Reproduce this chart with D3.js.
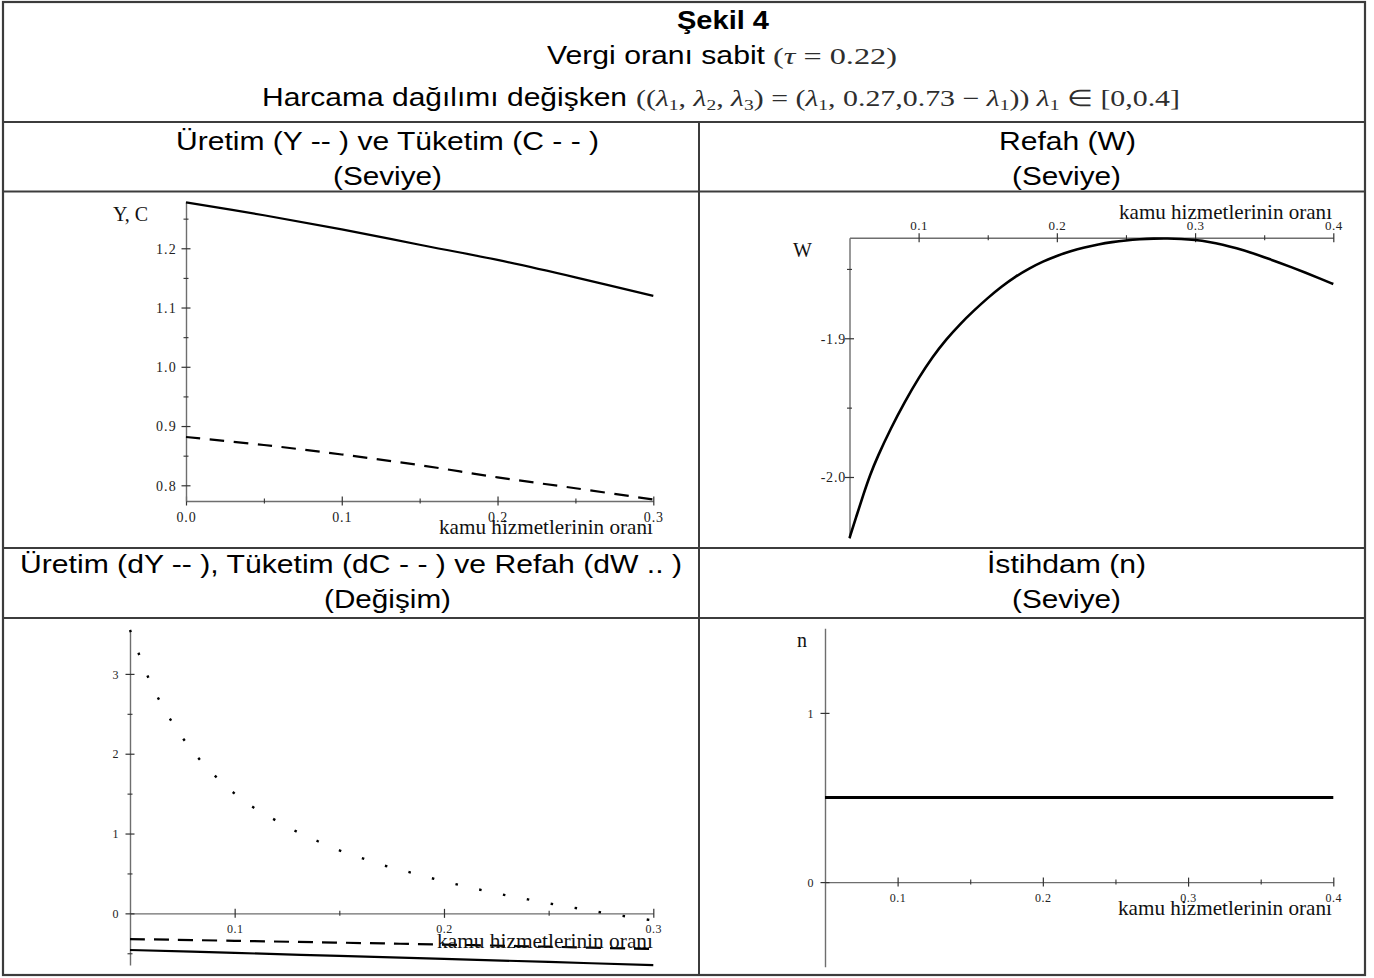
<!DOCTYPE html>
<html><head><meta charset="utf-8">
<script src="https://cdn.jsdelivr.net/npm/d3@7"></script>
<style>
html,body{margin:0;padding:0;background:#fff;}
svg{display:block;}
</style></head><body>
<svg id="chart" width="1374" height="978"></svg>
<script>
// ---------------- DATA ----------------
// Top-left: output Y and consumption C (levels) vs lambda1
const tlLambda = [0, 0.05, 0.10, 0.15, 0.20, 0.25, 0.30];
const tlOutputY = [1.2776, 1.2558, 1.2319, 1.2060, 1.1803, 1.1510, 1.1196];
const tlConsumptionC = [0.8815, 0.8680, 0.8520, 0.8340, 0.8135, 0.7950, 0.7760];

// Top-right: welfare W (level)
const trLambda = [0.05, 0.055, 0.06, 0.065, 0.07, 0.08, 0.09, 0.10, 0.11, 0.12, 0.13, 0.14, 0.15, 0.16, 0.17, 0.18, 0.19, 0.20, 0.21, 0.22, 0.23, 0.24, 0.25, 0.26, 0.27, 0.28, 0.29, 0.30, 0.31, 0.32, 0.33, 0.34, 0.35, 0.36, 0.37, 0.38, 0.39, 0.40];
const trWelfareW = [-2.0440, -2.0283, -2.0127, -1.9982, -1.9859, -1.9647, -1.9457, -1.9286, -1.9135, -1.9007, -1.8897, -1.8800, -1.8709, -1.8627, -1.8555, -1.8496, -1.8446, -1.8405, -1.8372, -1.8345, -1.8323, -1.8306, -1.8294, -1.8286, -1.8281, -1.8280, -1.8283, -1.8291, -1.8305, -1.8325, -1.8351, -1.8381, -1.8415, -1.8451, -1.8489, -1.8528, -1.8568, -1.8609];

// Bottom-left: changes dY, dC, dW
const blLambdaW = [0.05, 0.06, 0.07, 0.08, 0.09, 0.10, 0.11, 0.12, 0.13, 0.14, 0.15, 0.16, 0.17, 0.18, 0.19, 0.20, 0.21, 0.22, 0.23, 0.24, 0.25, 0.26, 0.27, 0.28, 0.29, 0.30];
const blWelfareDW = [3.55, 2.88, 2.40, 2.03, 1.74, 1.50, 1.31, 1.16, 1.02, 0.90, 0.79, 0.70, 0.61, 0.54, 0.47, 0.40, 0.34, 0.28, 0.225, 0.175, 0.125, 0.08, 0.035, -0.01, -0.05, -0.09];
const blLambdaYC = [0.05, 0.10, 0.15, 0.20, 0.25, 0.30];
const blOutputDY = [-0.459, -0.495, -0.533, -0.570, -0.609, -0.648];
const blConsumptionDC = [-0.322, -0.344, -0.367, -0.391, -0.418, -0.447];

// Bottom-right: employment n
const brLambda = [0.05, 0.40];
const brEmploymentN = [0.5, 0.5];

// Tick values
const tlXMajor = [0, 0.1, 0.2, 0.3], tlXMinor = [0.05, 0.15, 0.25];
const tlYMajor = [0.8, 0.9, 1.0, 1.1, 1.2], tlYMinor = [0.85, 0.95, 1.05, 1.15, 1.25];
const trXMajor = [0.1, 0.2, 0.3, 0.4], trXMinor = [0.15, 0.25, 0.35];
const trYMajor = [-2.0, -1.9], trYMinor = [-1.95, -1.85];
const blXMajor = [0.1, 0.2, 0.3], blXMinor = [0.15, 0.25];
const blYMajor = [0, 1, 2, 3], blYMinor = [-0.5, 0.5, 1.5, 2.5];
const brXMajor = [0.1, 0.2, 0.3, 0.4], brXMinor = [0.15, 0.25, 0.35];
const brYMajor = [0, 1];

const axisLabelText = "kamu hizmetlerinin oranı";

// ---------------- DRAWING ----------------
const svg = d3.select("#chart");
const SANS = "'Liberation Sans', Arial, sans-serif";
const SERIF = "'Liberation Serif', 'Times New Roman', serif";
const axisColor = "#6e6e6e", tickColor = "#333";

function txt(x, y, s, o = {}) {
  const t = svg.append("text").attr("x", x).attr("y", y)
    .attr("font-family", o.family || SANS).attr("font-size", o.size || 25)
    .attr("font-weight", o.weight || "normal").attr("fill", o.fill || "#000")
    .attr("text-anchor", o.anchor || "start").text(s);
  if (o.len) t.attr("textLength", o.len).attr("lengthAdjust", "spacingAndGlyphs");
  return t;
}

// Table grid
const grid = svg.append("g").attr("stroke", "#3c3c3c").attr("fill", "none");
grid.append("rect").attr("x", 3).attr("y", 2).attr("width", 1362).attr("height", 973).attr("stroke-width", 2.2);
[122, 191.5, 548, 618].forEach(yy => grid.append("line").attr("x1", 3).attr("x2", 1365).attr("y1", yy).attr("y2", yy).attr("stroke-width", 2));
grid.append("line").attr("x1", 699).attr("x2", 699).attr("y1", 122).attr("y2", 975).attr("stroke-width", 2);

// Title block
txt(677, 29, "Şekil 4", {weight: "bold", len: 92});
txt(547, 64, "Vergi oranı sabit", {len: 218});

// math text: segments [text, italic?, subscript?]
function mathText(x, y, len, segs) {
  const t = svg.append("text").attr("x", x).attr("y", y).attr("font-family", SERIF)
    .attr("font-size", 23).attr("fill", "#2e2e2e").attr("textLength", len).attr("lengthAdjust", "spacingAndGlyphs");
  let inSub = false;
  segs.forEach(([s, it, sub]) => {
    const ts = t.append("tspan").text(s);
    if (it) ts.attr("font-style", "italic");
    if (sub) { ts.attr("font-size", 15); if (!inSub) ts.attr("dy", 4); inSub = true; }
    else if (inSub) { ts.attr("dy", -4); inSub = false; }
  });
  return t;
}
mathText(773, 64, 124, [["(", 0, 0], ["τ", 1, 0], [" = 0.22)", 0, 0]]);
txt(262, 106, "Harcama dağılımı değişken", {len: 365});
mathText(636, 106, 544, [
  ["((", 0, 0], ["λ", 1, 0], ["1", 0, 1], [", ", 0, 0], ["λ", 1, 0], ["2", 0, 1], [", ", 0, 0],
  ["λ", 1, 0], ["3", 0, 1], [") = (", 0, 0], ["λ", 1, 0], ["1", 0, 1], [", 0.27,0.73 − ", 0, 0],
  ["λ", 1, 0], ["1", 0, 1], [")) ", 0, 0], ["λ", 1, 0], ["1", 0, 1], [" ∈ [0,0.4]", 0, 0]
]);

// Headers
txt(176, 150, "Üretim (Y -- ) ve Tüketim (C - - )", {len: 423});
txt(333, 184.5, "(Seviye)", {len: 109});
txt(999, 150, "Refah (W)", {len: 137});
txt(1012, 184.5, "(Seviye)", {len: 109});
txt(20, 573, "Üretim (dY -- ), Tüketim (dC - - ) ve Refah (dW .. )", {len: 662});
txt(324, 607.5, "(Değişim)", {len: 127});
txt(987, 573, "İstihdam (n)", {len: 159});
txt(1012, 607.5, "(Seviye)", {len: 109});

// Axis helpers
function styleAxisG(ax, size, ls) {
  ax.attr("font-family", SERIF).attr("font-size", size).attr("fill", null);
  ax.select(".domain").attr("stroke", axisColor).attr("stroke-width", 1.4);
  ax.selectAll(".tick text").attr("fill", "#222").attr("letter-spacing", ls);
}
function xAxis(g, x, yPos, majors, minors, fmt, labelY, size, ls, top) {
  const gen = top ? d3.axisTop : d3.axisBottom;
  const ax = g.append("g").attr("transform", `translate(0,${yPos})`)
    .call(gen(x).tickValues(majors).tickFormat(fmt).tickSizeInner(4.5).tickSizeOuter(0));
  styleAxisG(ax, size, ls);
  ax.selectAll(".tick line").attr("y1", -4.5).attr("y2", 4.5).attr("stroke", tickColor).attr("stroke-width", 1.2);
  ax.selectAll(".tick text").attr("y", labelY).attr("dy", null);
  const mn = g.append("g").attr("transform", `translate(0,${yPos})`)
    .call(gen(x).tickValues(minors).tickFormat("").tickSizeOuter(0));
  mn.select(".domain").remove();
  mn.selectAll(".tick line").attr("y1", -2.5).attr("y2", 2.5).attr("stroke", tickColor).attr("stroke-width", 1.1);
}
function yAxis(g, y, xPos, majors, minors, fmt, labelX, size, ls) {
  const ax = g.append("g").attr("transform", `translate(${xPos},0)`)
    .call(d3.axisLeft(y).tickValues(majors).tickFormat(fmt).tickSizeInner(4.5).tickSizeOuter(0));
  styleAxisG(ax, size, ls);
  ax.selectAll(".tick line").attr("x1", -4.5).attr("x2", 4.5).attr("stroke", tickColor).attr("stroke-width", 1.2);
  ax.selectAll(".tick text").attr("x", labelX).attr("dy", "0.35em");
  if (minors.length) {
    const mn = g.append("g").attr("transform", `translate(${xPos},0)`)
      .call(d3.axisLeft(y).tickValues(minors).tickFormat("").tickSizeOuter(0));
    mn.select(".domain").remove();
    mn.selectAll(".tick line").attr("x1", -2.5).attr("x2", 2.5).attr("stroke", tickColor).attr("stroke-width", 1.1);
  }
}
const f1 = d => d.toFixed(1);
const f0 = d => d.toFixed(0);
function plotLine(g, x, y, xs, ys, o) {
  const line = d3.line().x(d => x(d[0])).y(d => y(d[1])).curve(o.curve || d3.curveCatmullRom.alpha(0.5));
  const p = g.append("path").datum(d3.zip(xs, ys)).attr("d", line)
    .attr("fill", "none").attr("stroke", "#000").attr("stroke-width", o.w || 2.2);
  if (o.dash) p.attr("stroke-dasharray", o.dash);
  return p;
}

// ---- Panel TL ----
{
  const g = svg.append("g");
  const x = d3.scaleLinear().domain([0, 0.3]).range([186, 653.3]);
  const y = d3.scaleLinear().domain([0.7735, 1.2786]).range([501, 201.7]);
  xAxis(g, x, y(0.7735), tlXMajor, tlXMinor, f1, 21, 14, 0.8);
  yAxis(g, y, x(0), tlYMajor, tlYMinor, f1, -9, 14, 1.2);
  plotLine(g, x, y, tlLambda, tlOutputY, {w: 2.2});
  plotLine(g, x, y, tlLambda, tlConsumptionC, {w: 2.2, dash: "14.5,9.5"});
  txt(113, 221, "Y, C", {family: SERIF, size: 20, fill: "#111"});
  txt(439, 534, axisLabelText, {family: SERIF, size: 21, fill: "#111", len: 214});
}

// ---- Panel TR ----
{
  const g = svg.append("g");
  const x = d3.scaleLinear().domain([0.05, 0.4]).range([849.5, 1333.3]);
  const y = d3.scaleLinear().domain([-2.0442, -1.8275]).range([538.3, 237.7]);
  xAxis(g, x, y(-1.8275), trXMajor, trXMinor, f1, -7.7, 13, 0.5, true);
  yAxis(g, y, x(0.05), trYMajor, trYMinor, f1, -3.5, 14, 0.8);
  plotLine(g, x, y, trLambda, trWelfareW, {w: 2.6, curve: d3.curveBasis});
  txt(793, 257, "W", {family: SERIF, size: 20, fill: "#111"});
  txt(1119, 218.5, axisLabelText, {family: SERIF, size: 21, fill: "#111", len: 213});
}

// ---- Panel BL ----
{
  const g = svg.append("g");
  const x = d3.scaleLinear().domain([0.05, 0.3]).range([130, 653.3]);
  const y = d3.scaleLinear().domain([-0.647, 3.55]).range([965, 630]);
  xAxis(g, x, y(0), blXMajor, blXMinor, f1, 20, 12, 0.5);
  yAxis(g, y, x(0.05), blYMajor, blYMinor, f0, -11.5, 12, 0);
  plotLine(g, x, y, blLambdaW, blWelfareDW, {w: 2.4, dash: "2.5,21.8"});
  plotLine(g, x, y, blLambdaYC, blConsumptionDC, {w: 2.2, dash: "15,9"});
  plotLine(g, x, y, blLambdaYC, blOutputDY, {w: 2.2});
  txt(437, 948, axisLabelText, {family: SERIF, size: 21, fill: "#111", len: 216});
}

// ---- Panel BR ----
{
  const g = svg.append("g");
  const x = d3.scaleLinear().domain([0.05, 0.4]).range([825, 1333.3]);
  const y = d3.scaleLinear().domain([-0.5, 1.5]).range([966.7, 628.3]);
  xAxis(g, x, y(0), brXMajor, brXMinor, f1, 20, 12, 0.5);
  yAxis(g, y, x(0.05), brYMajor, [], f0, -11.5, 12, 0);
  plotLine(g, x, y, brLambda, brEmploymentN, {w: 2.8});
  txt(797, 646.5, "n", {family: SERIF, size: 20, fill: "#111"});
  txt(1118, 915, axisLabelText, {family: SERIF, size: 21, fill: "#111", len: 214});
}
</script>
</body></html>
